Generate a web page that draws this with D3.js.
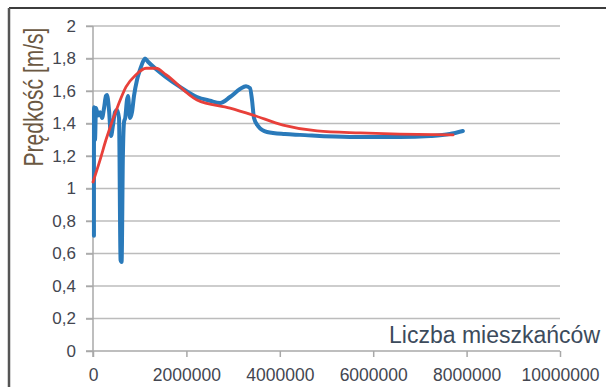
<!DOCTYPE html>
<html>
<head>
<meta charset="utf-8">
<script src="https://cdn.jsdelivr.net/npm/d3@7"></script>
<style>
  body { margin: 0; background: #fff; }
  svg { display: block; }
  .tick text { font-family: "Liberation Sans", Arial, sans-serif; fill: #434650; }
</style>
</head>
<body>
<div id="chart"></div>
<script>
// speed vs population (x in inhabitants, y in m/s)
const blueX = [20000, 21000, 43000, 64000, 107000, 150000, 193000, 236000, 278000, 300000,
  343000, 385000, 428000, 471000, 514000, 557000, 590000, 612000, 640000, 665000, 690000,
  728000, 750000, 792000, 835000, 878000, 942000, 1006000, 1070000, 1113000, 1178000,
  1328000, 1542000, 1863000, 2227000, 2505000, 2720000, 2934000, 3148000, 3276000, 3362000,
  3405000, 3447000, 3533000, 3726000, 4110000, 4430000, 5500000, 6570000, 7220000, 7640000, 7920000];
const blueY = [0.71, 1.50, 1.30, 1.495, 1.45, 1.47, 1.434, 1.495, 1.57, 1.575,
  1.483, 1.323, 1.39, 1.47, 1.483, 1.434, 0.56, 0.548, 1.2, 1.41, 1.434,
  1.545, 1.57, 1.434, 1.47, 1.57, 1.668, 1.73, 1.78, 1.80, 1.78,
  1.74, 1.69, 1.625, 1.563, 1.54, 1.526, 1.563, 1.612, 1.63, 1.618,
  1.545, 1.434, 1.385, 1.348, 1.335, 1.33, 1.317, 1.317, 1.323, 1.335, 1.354];

// trend line (red)
const redX = [0, 150000, 278000, 557000, 707000, 920000, 1135000, 1350000, 1563000,
  2227000, 2934000, 3426000, 4070000, 4800000, 5720000, 6570000, 7710000];
const redY = [1.04, 1.175, 1.30, 1.526, 1.625, 1.70, 1.74, 1.74, 1.70,
  1.545, 1.495, 1.452, 1.39, 1.354, 1.342, 1.335, 1.33];

const yTicks = [0, 0.2, 0.4, 0.6, 0.8, 1, 1.2, 1.4, 1.6, 1.8, 2];
const yTickLabels = ["0", "0,2", "0,4", "0,6", "0,8", "1", "1,2", "1,4", "1,6", "1,8", "2"];
const xTicks = [0, 2000000, 4000000, 6000000, 8000000, 10000000];
const xTickLabels = ["0", "2000000", "4000000", "6000000", "8000000", "10000000"];

const width = 606, height = 387;
const margin = {top: 26, right: 46, bottom: 36, left: 93};

let svg = d3.select("#chart").append("svg")
    .attr("width", width)
    .attr("height", height);

let x = d3.scaleLinear().domain([0, 10000000]).range([margin.left, width - margin.right]);
let y = d3.scaleLinear().domain([0, 2]).range([height - margin.bottom, margin.top]);

//outer frame (only top and left edges are visible)
svg.append("line")
    .attr("x1", 9).attr("x2", width).attr("y1", 8).attr("y2", 8)
    .attr("stroke", "#3c3c3c").attr("stroke-width", 2);
svg.append("line")
    .attr("x1", 9).attr("x2", 9).attr("y1", 8).attr("y2", height)
    .attr("stroke", "#555").attr("stroke-width", 2.5);

//horizontal grid lines
svg.append("g")
    .selectAll("line")
    .data(yTicks.slice(1))
    .enter()
    .append("line")
    .attr("x1", margin.left - 7)
    .attr("x2", x(10000000))
    .attr("y1", d => y(d))
    .attr("y2", d => y(d))
    .attr("stroke", "#bcbcbc")
    .attr("stroke-width", 1.5);

//y axis
let yAxis = d3.axisLeft(y)
    .tickValues(yTicks)
    .tickFormat((d, i) => yTickLabels[i])
    .tickSize(7)
    .tickPadding(10);
let gy = svg.append("g")
    .attr("transform", "translate(" + margin.left + ",0)")
    .call(yAxis);
gy.select(".domain").remove();
gy.selectAll(".tick line").attr("stroke", "#a8a8a8").attr("stroke-width", 1.5);
gy.selectAll(".tick text").attr("font-size", "17px");
gy.append("line")
    .attr("x1", 0).attr("x2", 0)
    .attr("y1", y(2)).attr("y2", y(0) + 6)
    .attr("stroke", "#a8a8a8").attr("stroke-width", 1.5);

//x axis
let xAxis = d3.axisBottom(x)
    .tickValues(xTicks)
    .tickFormat((d, i) => xTickLabels[i])
    .tickSize(6)
    .tickPadding(12);
let gx = svg.append("g")
    .attr("transform", "translate(0," + y(0) + ")")
    .call(xAxis);
gx.select(".domain").remove();
gx.selectAll(".tick line").attr("stroke", "#a8a8a8").attr("stroke-width", 1.5);
gx.selectAll(".tick text").attr("font-size", "17.5px");
gx.append("line")
    .attr("x1", x(0) - 7).attr("x2", x(10000000))
    .attr("y1", 0).attr("y2", 0)
    .attr("stroke", "#a8a8a8").attr("stroke-width", 1.5);

//data lines
let blueData = blueX.map((v, i) => [v, blueY[i]]);
let redData = redX.map((v, i) => [v, redY[i]]);

let line = d3.line()
    .x(d => x(d[0]))
    .y(d => y(d[1]))
    .curve(d3.curveMonotoneX);

svg.append("path")
    .datum(blueData)
    .attr("d", line)
    .attr("fill", "none")
    .attr("stroke", "#2a7aba")
    .attr("stroke-width", 4)
    .attr("stroke-linejoin", "round")
    .attr("stroke-linecap", "round");

svg.append("path")
    .datum(redData)
    .attr("d", line)
    .attr("fill", "none")
    .attr("stroke", "#e8403a")
    .attr("stroke-width", 2.8)
    .attr("stroke-linecap", "round");

//axis titles
svg.append("text")
    .attr("transform", "translate(43,97) scale(1.35,1) rotate(-90)")
    .attr("text-anchor", "middle")
    .attr("font-family", "Liberation Sans, Arial, sans-serif")
    .attr("font-size", "21px")
    .attr("fill", "#6b5842")
    .text("Prędkość [m/s]");

svg.append("text")
    .attr("x", 600)
    .attr("y", 343)
    .attr("text-anchor", "end")
    .attr("font-family", "Liberation Sans, Arial, sans-serif")
    .attr("font-size", "23px")
    .attr("fill", "#3c4b5c")
    .text("Liczba mieszkańców");
</script>
</body>
</html>
